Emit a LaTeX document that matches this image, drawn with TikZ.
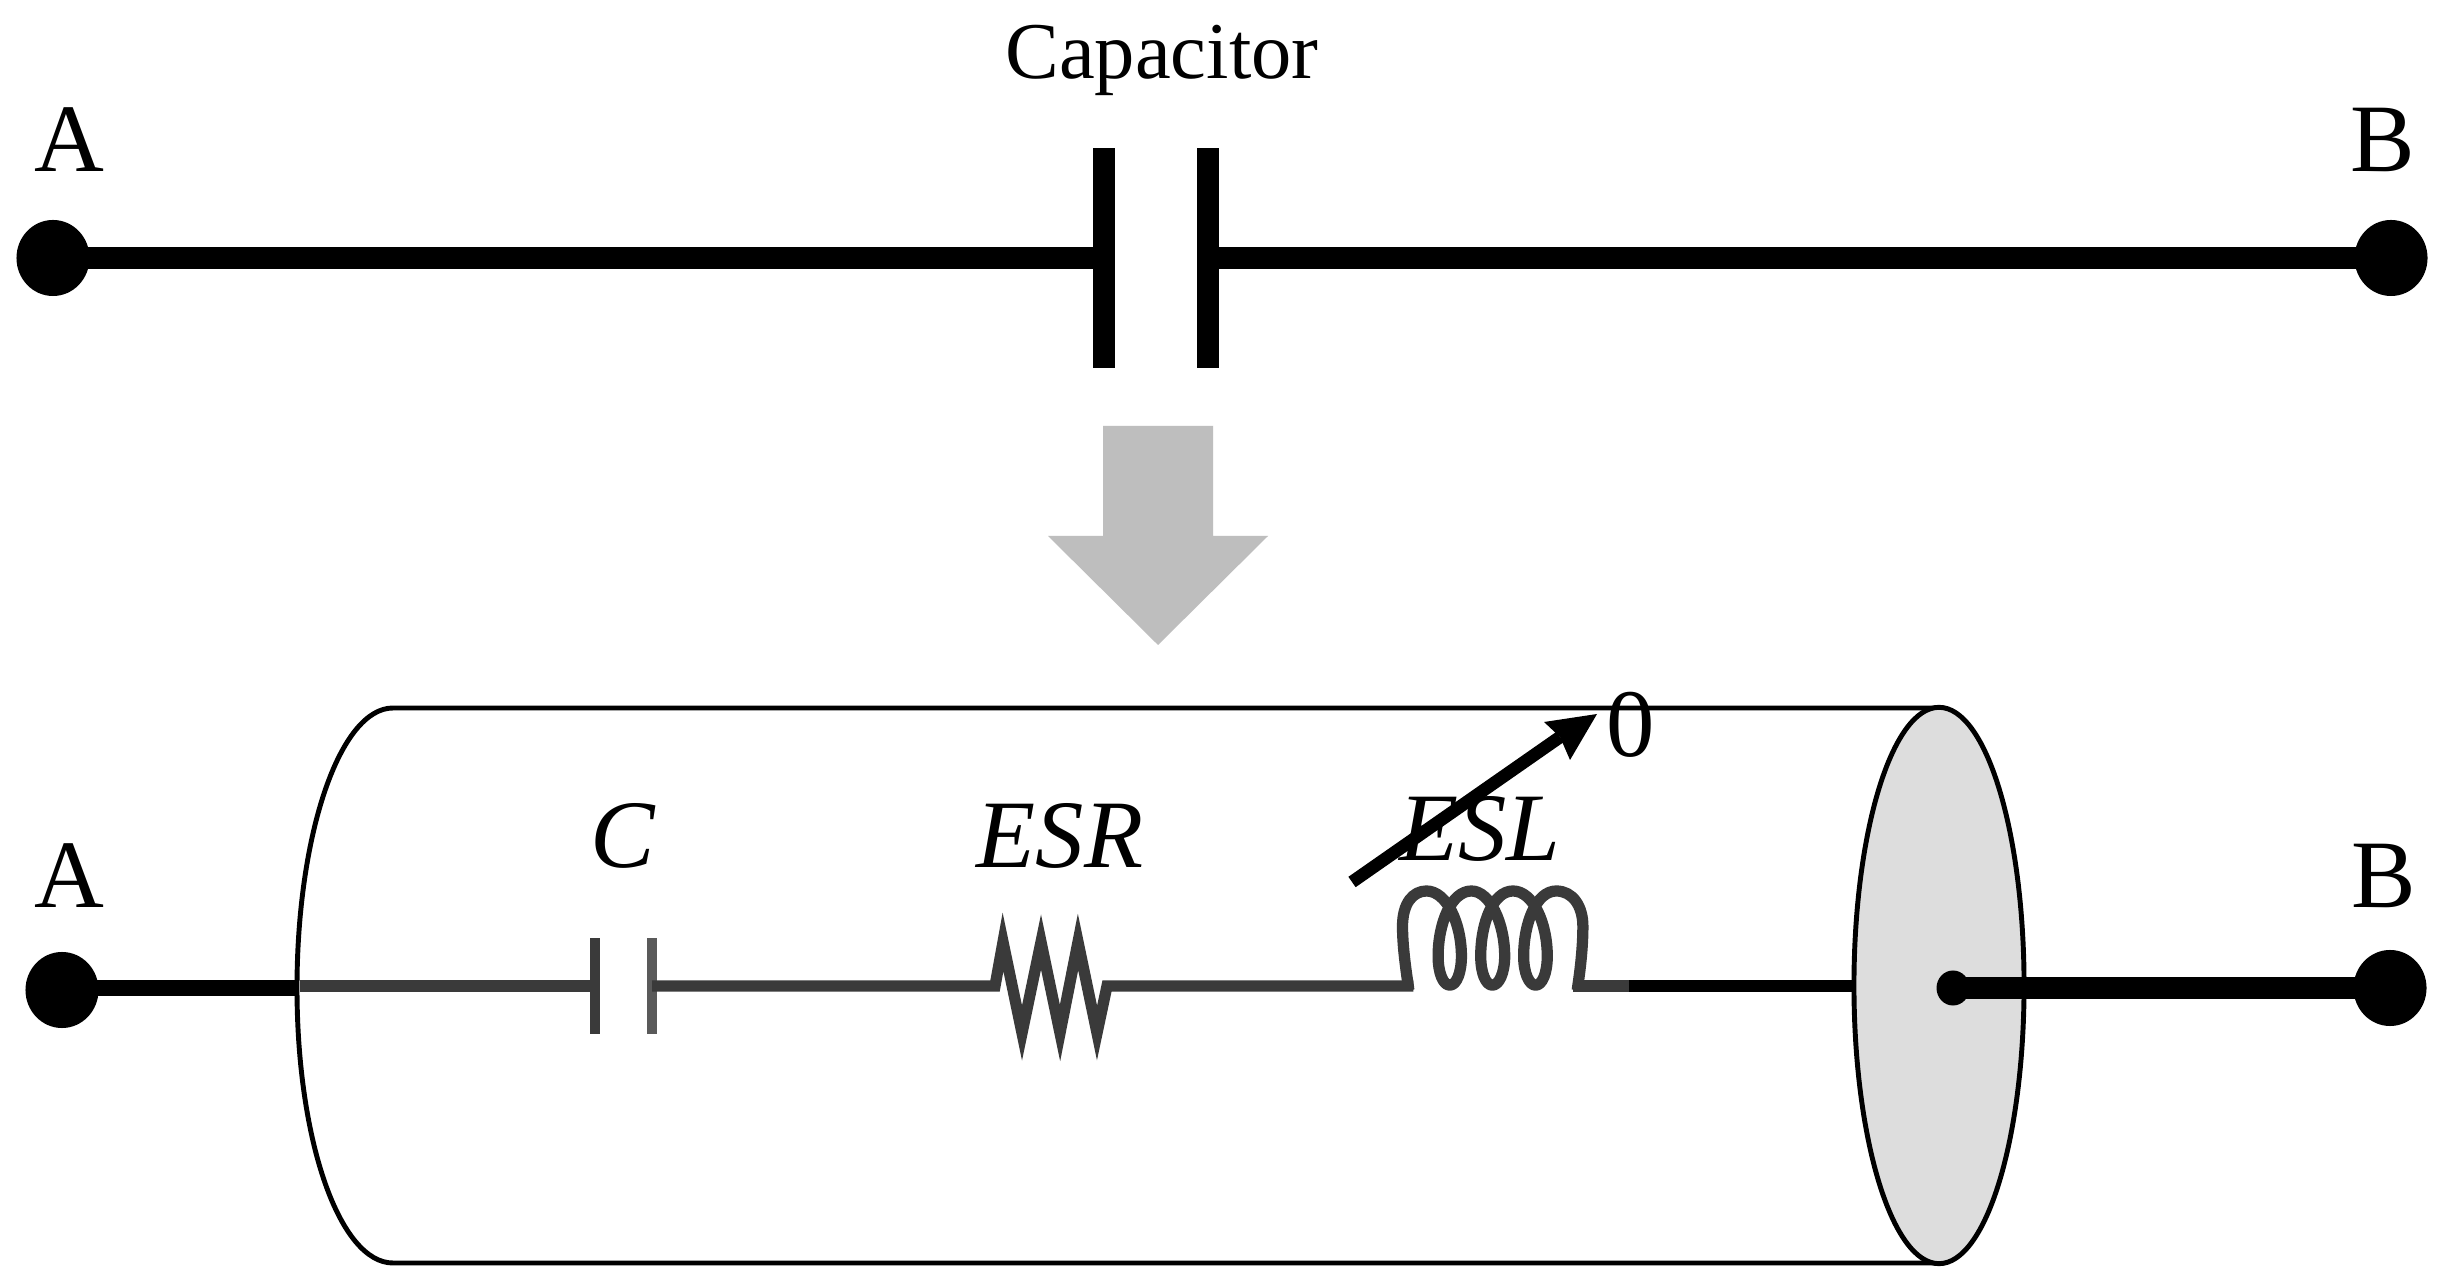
\documentclass[tikz,border=0pt]{standalone}
\usepackage{fontspec}
\setmainfont{Liberation Serif}
\usetikzlibrary{shapes.geometric}
\definecolor{wiregrey}{HTML}{3A3A3A}
\definecolor{plategrey}{HTML}{5A5A5A}
\definecolor{arrowgrey}{HTML}{BEBEBE}
\definecolor{capgrey}{HTML}{DDDDDD}
\tikzset{
  lbl/.style={anchor=base,inner sep=0pt,outer sep=0pt,font=\fontsize{27.5}{30}\selectfont},
  ilbl/.style={lbl,font=\fontsize{27.5}{30}\selectfont\itshape},
  dot/.style={ellipse,fill=black,inner sep=0pt,outer sep=0pt,minimum width=0.73cm,minimum height=0.76cm},
  smalldot/.style={ellipse,fill=black,inner sep=0pt,outer sep=0pt,minimum width=0.33cm,minimum height=0.35cm},
  plate/.style={rectangle,fill=black,inner sep=0pt,outer sep=0pt,minimum width=0.22cm,minimum height=2.19cm},
  gplate/.style={rectangle,inner sep=0pt,outer sep=0pt,minimum width=0.10cm,minimum height=0.95cm},
  wiretop/.style={line width=6.2pt,black},
  wireL/.style={line width=4.4pt,black},
  wireR/.style={line width=6.5pt,black},
  wireT/.style={line width=3.4pt,black},
  wire/.style={line width=3.2pt,wiregrey,miter limit=20},
  body/.style={line width=1.4pt,black},
}
\begin{document}
\begin{tikzpicture}[x=0.01cm,y=-0.01cm]
\useasboundingbox (0,0) rectangle (2446,1280);
\fill[white] (0,0) rectangle (2446,1280);

% top capacitor
\node[dot] (A1) at (53,258) {};
\node[dot] (B1) at (2391,258) {};
\node[plate] (P1) at (1104,258) {};
\node[plate] (P2) at (1208,258) {};
\draw[wiretop] (A1.center) -- (P1.center);
\draw[wiretop] (P2.center) -- (B1.center);
\node[lbl,font=\fontsize{22.9}{26}\selectfont] (cap) at (1162,79) {Capacitor};
\node[lbl] (LA1) at (69,172) {A};
\node[lbl] (LB1) at (2383,172) {B};

% grey arrow
\fill[arrowgrey] (1103,426) -- (1213,426) -- (1213,536) -- (1268,536) -- (1158,645)
  -- (1048,536) -- (1103,536) -- cycle;

% cylinder
\coordinate (TL) at (393,708);
\coordinate (BL) at (393,1263);
\coordinate (TR) at (1939,708);
\coordinate (BR) at (1939,1263);
\coordinate (LE) at (297,988);
\coordinate (W0) at (300,986);
\coordinate (W1) at (1629,986);
\coordinate (RE) at (1854,986);

\node[dot] (A2) at (62,990) {};
\draw[wireL] (A2.center |- LE) -- (LE);
\draw[wireT] (W1) -- (RE);
\draw[body] (TR) -- (TL) .. controls (340,708) and (297,834) .. (LE)
  .. controls (297,1142) and (340,1263) .. (BL) -- (BR);
\node[ellipse,draw=black,line width=1.4pt,fill=capgrey,inner sep=0pt,outer sep=0pt,
  minimum width=1.70cm,minimum height=5.56cm] (E) at (1939,985.5) {};

% series elements
\node[gplate,fill=wiregrey] (C1) at (595,986) {};
\node[gplate,fill=plategrey] (C2) at (652,986) {};
\draw[wire] (W0) -- (C1.center);

\coordinate (R0) at (995,986);
\coordinate (R1) at (1107,986);
\coordinate (L0) at (1413.3,986);
\draw[wire] (C2.center) -- (R0) -- (1003,942) -- (1022,1033) -- (1041,942) -- (1060,1033)
  -- (1078,942) -- (1097,1033) -- (R1) -- (L0);

\begin{scope}[shift={(1300,680)},x=0.003333cm,y=-0.003333cm]
\draw[wire,line join=round] (327,932) -- (325,917) .. controls (315,850) and (308,790) .. (308,740)
  .. controls (308,670) and (340,634) .. (380,634)
  .. controls (440,634) and (485,730) .. (485,830)
  .. controls (485,880) and (470,917) .. (450,917)
  .. controls (430,917) and (415,880) .. (415,830)
  .. controls (415,730) and (455,634) .. (515,634)
  .. controls (570,634) and (615,730) .. (615,830)
  .. controls (615,880) and (598,917) .. (578,917)
  .. controls (558,917) and (543,880) .. (543,830)
  .. controls (543,730) and (580,634) .. (640,634)
  .. controls (700,634) and (743,730) .. (743,830)
  .. controls (743,880) and (728,917) .. (708,917)
  .. controls (688,917) and (672,880) .. (672,830)
  .. controls (672,730) and (710,634) .. (770,634)
  .. controls (820,634) and (850,680) .. (850,740)
  .. controls (850,790) and (845,850) .. (835,917) -- (833,932);
\end{scope}
\coordinate (L1) at (1573,986);
\draw[wire] (L1) -- (W1);

% labels
\node[ilbl] (LC) at (623,868) {C};
\node[ilbl] (LR) at (1060,868) {ESR};
\node[ilbl] (LL) at (1480,861) {ESL};
\node[lbl] (LA2) at (69,908) {A};
\node[lbl] (LB2) at (2384,908) {B};
\node[lbl] (L0T) at (1631,757) {0};

% variable arrow
\coordinate (VS) at (1352,882);
\coordinate (VN) at (1560,737);
\coordinate (VT) at (1597,714);
\draw[line width=3.6pt,black] (VS) -- (VN);
\fill[black] (VT) -- (1544,722) -- (VN) -- (1570,760) -- cycle;

% right end
\node[smalldot] (S) at (1953,988) {};
\node[dot] (B2) at (2390,988) {};
\draw[wireR] (S.center) -- (B2.center);
\end{tikzpicture}
\end{document}
